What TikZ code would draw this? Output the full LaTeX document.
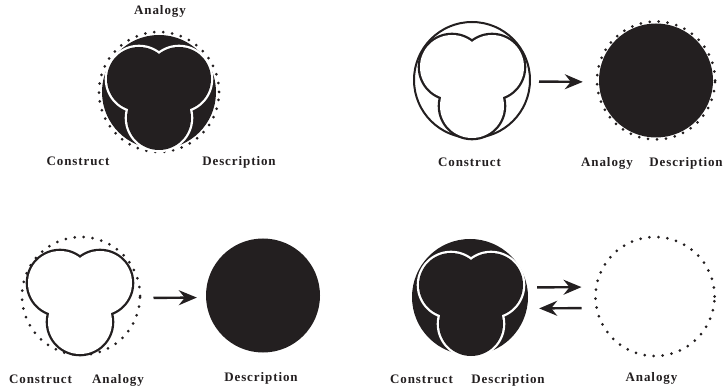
\documentclass[tikz,border=0pt]{standalone}
\usepackage{fontspec}
\setmainfont{Liberation Serif}
\newfontfamily\lblfont[LetterSpace=7]{Liberation Serif}
\usetikzlibrary{arrows.meta}
\definecolor{ink}{HTML}{231F20}
\tikzset{
  pics/trefoil/.style 2 args={code={
    \foreach \x/\y in {-20/-13,20/-13,0/26}
      \draw[line width=4.6pt,#1] (\x,\y) circle[radius=32pt];
    \foreach \x/\y in {-20/-13,20/-13,0/26}
      \fill[#2] (\x,\y) circle[radius=32pt];
  }}
}
\begin{document}
\begin{tikzpicture}[x=1pt,y=-1pt,
  lbl/.style={font=\lblfont\bfseries\fontsize{13}{15}\selectfont, text=ink, inner sep=0pt, anchor=base},
  disc/.style={circle, fill=ink, inner sep=0pt, minimum size=#1},
  ring/.style={circle, draw=ink, line width=2pt, inner sep=0pt, minimum size=#1},
  dotring/.style={circle, draw=ink, line width=3pt, line cap=round, dash pattern=on 0pt off 9pt, inner sep=0pt, minimum size=#1},
  arr/.style={draw=ink, line width=2.4pt, -{Stealth[length=18pt,width=15pt,inset=6pt]}}
]
\useasboundingbox (0,0) rectangle (726,390);

% ---------- Panel 1 ----------
\node[disc=114pt] (p1) at (159,92) {};
\node[dotring=120pt] (p1d) at (159,92) {};
\pic at (159,92) {trefoil={white}{ink}};
\node[lbl] (p1a) at (160,15) {Analogy};
\node[lbl] (p1c) at (78,166) {Construct};
\node[lbl] (p1e) at (239,166) {Description};

% ---------- Panel 2 ----------
\node[ring=116pt] (p2c) at (472,80) {};
\pic at (472,80) {trefoil={ink}{white}};
\node[disc=114pt] (p2b) at (656,80.5) {};
\node[dotring=118pt] (p2d) at (656,80.5) {};
\draw[arr, shorten <=8pt, shorten >=16pt] ([yshift=-1.5pt]p2c.east) -- ([yshift=-1.5pt]p2b.west);
\node[lbl] (p2l1) at (469.5,166.5) {Construct};
\node[lbl] (p2l2) at (607,166.5) {Analogy};
\node[lbl] (p2l3) at (686,166.5) {Description};

% ---------- Panel 3 ----------
\node[dotring=118pt] (p3c) at (81,296) {};
\pic at (80,296) {trefoil={ink}{white}};
\node[disc=114pt] (p3b) at (263,295.5) {};
\draw[arr, shorten <=12pt, shorten >=9pt] ([yshift=-2pt]p3c.east) -- ([yshift=-2pt]p3b.west);
\node[lbl] (p3l1) at (40.5,383) {Construct};
\node[lbl] (p3l2) at (118,383) {Analogy};
\node[lbl] (p3l3) at (261,381.5) {Description};

% ---------- Panel 4 ----------
\node[disc=116pt] (p4b) at (470,297) {};
\pic at (471,298) {trefoil={white}{ink}};
\node[dotring=119pt] (p4d) at (655,296.5) {};
\draw[arr, shorten <=9pt, shorten >=12.5pt] ([yshift=9.5pt]p4b.east) -- ([yshift=9.5pt]p4d.west);
\draw[arr, shorten <=12.5pt, shorten >=11pt] ([yshift=-11.5pt]p4d.west) -- ([yshift=-11.5pt]p4b.east);
\node[lbl] (p4l1) at (421.5,383) {Construct};
\node[lbl] (p4l2) at (508,383) {Description};
\node[lbl] (p4l3) at (651.5,381.5) {Analogy};
\end{tikzpicture}
\end{document}
